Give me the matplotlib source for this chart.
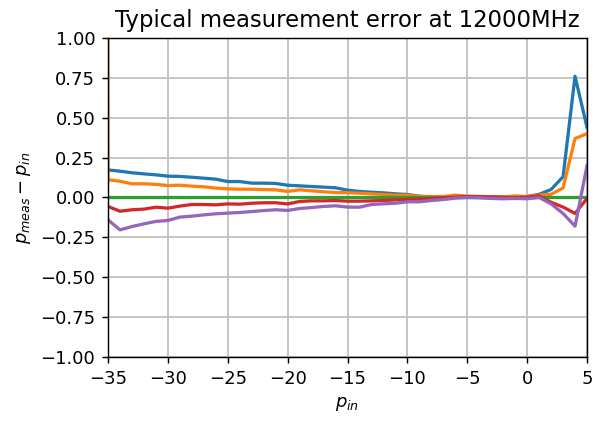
import matplotlib
matplotlib.use("Agg")
import matplotlib.pyplot as plt
import numpy as np

# input power grid (dBm)
p_in = np.arange(-35, 6)
# orange trace has one extra (glitched) sample below the plotted range
p_in_orange = np.arange(-36, 6)

err_blue = [0.173, 0.165, 0.155, 0.148, 0.142, 0.134, 0.132, 0.127, 0.121, 0.115,
            0.100, 0.100, 0.090, 0.090, 0.088, 0.077, 0.073, 0.069, 0.065, 0.061,
            0.046, 0.038, 0.033, 0.029, 0.023, 0.019, 0.008, 0.004, 0.004, 0.004,
            0.004, 0.004, 0.004, 0.004, 0.004, 0.006, 0.020, 0.050, 0.130, 0.760,
            0.440]
err_orange = [100.0,
              0.111, 0.102, 0.086, 0.086, 0.082, 0.075, 0.077, 0.071, 0.067, 0.059,
              0.054, 0.052, 0.052, 0.050, 0.048, 0.038, 0.048, 0.042, 0.036, 0.031,
              0.030, 0.027, 0.023, 0.019, 0.015, 0.015, 0.006, 0.006, 0.006, 0.015,
              0.008, 0.006, 0.004, 0.004, 0.010, 0.006, 0.015, 0.020, 0.060, 0.370,
              0.400]
err_green = [0.0] * 41
err_red = [-0.056, -0.086, -0.077, -0.073, -0.061, -0.067, -0.054, -0.044, -0.044, -0.046,
           -0.040, -0.042, -0.036, -0.033, -0.033, -0.040, -0.025, -0.021, -0.021, -0.019,
           -0.023, -0.023, -0.021, -0.019, -0.015, -0.013, -0.010, -0.006, -0.002, 0.002,
           0.006, 0.006, 0.004, 0.000, -0.002, 0.002, 0.010, -0.030, -0.060, -0.100,
           -0.006]
err_purple = [-0.140, -0.203, -0.182, -0.165, -0.150, -0.144, -0.123, -0.117, -0.109, -0.102,
              -0.098, -0.094, -0.088, -0.082, -0.077, -0.081, -0.069, -0.063, -0.056, -0.052,
              -0.060, -0.061, -0.044, -0.040, -0.036, -0.027, -0.027, -0.019, -0.013, -0.004,
              0.000, -0.002, -0.006, -0.008, -0.006, -0.008, 0.000, -0.040, -0.100, -0.180,
              0.200]

dpi = 130
fig = plt.figure(figsize=(602 / dpi, 423 / dpi), dpi=dpi)
ax = fig.add_axes([0.1794, 0.156, 0.7957, 0.7542])

lw = 1.8
ax.plot(p_in, err_blue, lw=lw)
ax.plot(p_in_orange, err_orange, lw=lw)
ax.plot(p_in, err_green, lw=lw)
ax.plot(p_in, err_red, lw=lw)
ax.plot(p_in, err_purple, lw=lw)

ax.set_xlim(-35, 5)
ax.set_ylim(-1, 1)
ax.set_yticks(np.arange(-1, 1.01, 0.25))
ax.grid(True, color="#c0c0c0", lw=1.0)
ax.set_title("Typical measurement error at 12000MHz", fontsize=12.6)
ax.set_xlabel("$p_{in}$")
ax.set_ylabel("$p_{meas} - p_{in}$")

fig.savefig("out.png", dpi=dpi)
